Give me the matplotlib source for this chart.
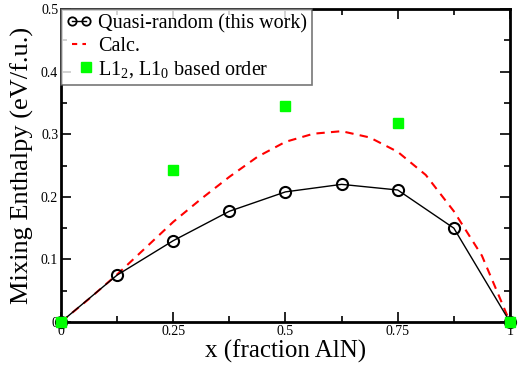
import matplotlib.pyplot as plt
from matplotlib.ticker import MultipleLocator

plt.rcParams['font.family'] = ['Liberation Serif', 'DejaVu Serif']
plt.rcParams['mathtext.fontset'] = 'custom'
plt.rcParams['mathtext.rm'] = 'Liberation Serif'

# quasi-random (this work)
x_qr = [0, 0.125, 0.25, 0.375, 0.5, 0.625, 0.75, 0.875, 1.0]
y_qr = [0, 0.075, 0.130, 0.177, 0.208, 0.220, 0.211, 0.150, 0]

# Calc. curve
x_calc = [0, 0.0625, 0.125, 0.1875, 0.25, 0.3125, 0.375, 0.4375, 0.5,
          0.5625, 0.625, 0.6875, 0.75, 0.8125, 0.875, 0.9375, 1.0]
y_calc = [0, 0.037, 0.076, 0.118, 0.160, 0.197, 0.232, 0.264, 0.288,
          0.301, 0.305, 0.295, 0.272, 0.235, 0.177, 0.106, 0]

# L1_2, L1_0 based order
x_ord = [0, 0.25, 0.5, 0.75, 1.0]
y_ord = [0, 0.243, 0.346, 0.318, 0]

fig = plt.figure(figsize=(5.23, 3.65), dpi=100)
ax = fig.add_axes([0.1166, 0.1178, 0.8585, 0.857])

ax.plot(x_qr, y_qr, color='black', lw=1, marker='o', ms=8, mfc='none',
        mec='black', mew=1.5, label='Quasi-random (this work)', clip_on=False, zorder=3)
ax.plot(x_calc, y_calc, color='red', lw=1.5, ls=(0, (4, 3)), label='Calc.', zorder=2)
ax.plot(x_ord, y_ord, ls='none', marker='s', ms=7, color='#00ff00',
        label=r'L1$_2$, L1$_0$ based order', clip_on=False, zorder=4)

ax.set_xlim(0, 1)
ax.set_ylim(0, 0.5)
ax.xaxis.set_minor_locator(MultipleLocator(0.125))
ax.yaxis.set_minor_locator(MultipleLocator(0.05))
ax.set_xticks([0, 0.25, 0.5, 0.75, 1.0])
ax.set_xticklabels(['0', '0.25', '0.5', '0.75', '1'])
ax.set_yticks([0, 0.1, 0.2, 0.3, 0.4, 0.5])
ax.set_yticklabels(['0', '0.1', '0.2', '0.3', '0.4', '0.5'])
ax.tick_params(which='both', direction='in', top=True, right=True, labelsize=10, width=1.2)
ax.tick_params(which='major', length=7, pad=2)
ax.tick_params(which='minor', length=4)
for s in ax.spines.values():
    s.set_linewidth(2)

ax.set_xlabel('x (fraction AlN)', fontsize=18, labelpad=1)
ax.set_ylabel('Mixing Enthalpy (eV/f.u.)', fontsize=19, labelpad=5)

leg = ax.legend(loc='upper left', fontsize=14.5, frameon=True, fancybox=False,
                edgecolor='#555555', borderaxespad=0, handlelength=1.3,
                handletextpad=0.3, labelspacing=0.15, borderpad=0.25,
                numpoints=2)
leg.get_frame().set_linewidth(1.2)
h_qr, h_calc, h_ord = leg.legend_handles
h_qr.set_markersize(6)
h_qr.set_markeredgewidth(1.3)
h_calc.set_linestyle((0, (2.5, 2.5)))
h_ord.set_markevery([1])
h_ord.set_markersize(6.5)

plt.savefig('out.png', dpi=100)
